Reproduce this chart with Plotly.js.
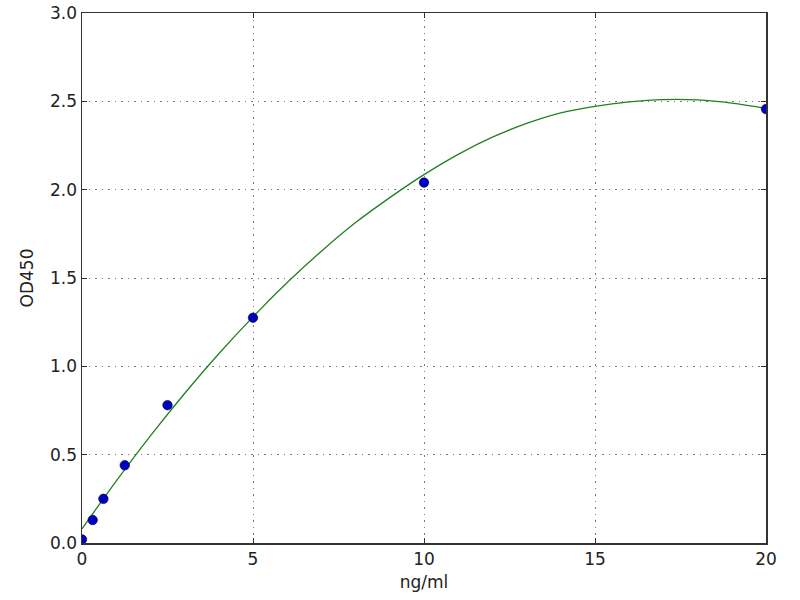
<!DOCTYPE html>
<html>
<head>
<meta charset="utf-8">
<script src="https://cdn.plot.ly/plotly-3.0.1.min.js"></script>
<style>
  html, body { margin: 0; padding: 0; background: #fff; }
  #chart { width: 800px; height: 600px; }
</style>
</head>
<body>
<div id="chart"></div>
<script>
// Standard curve: measured OD450 per concentration, plus the fitted curve
// read off the picture at whole ng/ml steps.
const concNgMl = [0, 0.3125, 0.625, 1.25, 2.5, 5, 10, 20];
const od450 = [0.02, 0.13, 0.25, 0.44, 0.78, 1.275, 2.04, 2.456];

const fitX = [0, 1, 2, 3, 4, 5, 6, 7, 8, 9, 10, 11, 12, 13, 14, 15, 16, 17, 18, 19, 20];
const fitY = [0.08, 0.35, 0.606, 0.846, 1.071, 1.28, 1.474, 1.652, 1.814, 1.955, 2.085,
  2.2, 2.297, 2.375, 2.435, 2.472, 2.497, 2.51, 2.508, 2.49, 2.46];

const xTicks = [0, 5, 10, 15, 20];
const yTicks = [0, 0.5, 1.0, 1.5, 2.0, 2.5, 3.0];

const FONT = "'DejaVu Sans', sans-serif";
const INK = "#222";

function axis(ticks, range) {
  return {
    range,
    tickmode: "array",
    tickvals: ticks,
    ticks: "inside",
    ticklen: 5,
    tickwidth: 1,
    tickcolor: "#333",
    showline: true,
    linecolor: "#333",
    linewidth: 1.5,
    mirror: "ticks",
    showgrid: true,
    gridcolor: "#7a7a7a",
    griddash: "1.5px,5px", // sparse matplotlib-style dots
    gridwidth: 1,
    zeroline: false,
    tickfont: { family: FONT, size: 17, color: INK },
    fixedrange: true,
  };
}

const xaxis = axis(xTicks, [0, 20]);
xaxis.title = { text: "ng/ml", font: { family: FONT, size: 17, color: INK }, standoff: 8 };

const yaxis = axis(yTicks, [0, 3]);
yaxis.tickformat = ".1f";
yaxis.title = { text: "OD450", font: { family: FONT, size: 17, color: INK }, standoff: 12 };

const traces = [
  {
    x: fitX, y: fitY, mode: "lines", line: { color: "#1f801f", width: 1.3, shape: "spline" },
    hoverinfo: "skip",
  },
  {
    x: concNgMl, y: od450, mode: "markers",
    marker: { color: "#0000c0", size: 9.5, line: { color: "#000040", width: 0.6 } },
  },
];

const layout = {
  width: 800,
  height: 600,
  paper_bgcolor: "#fff",
  plot_bgcolor: "#fff",
  margin: { l: 82, r: 34, t: 13, b: 57 },
  showlegend: false,
  xaxis,
  yaxis,
};

Plotly.newPlot("chart", traces, layout, { displayModeBar: false, staticPlot: true });
</script>
</body>
</html>
